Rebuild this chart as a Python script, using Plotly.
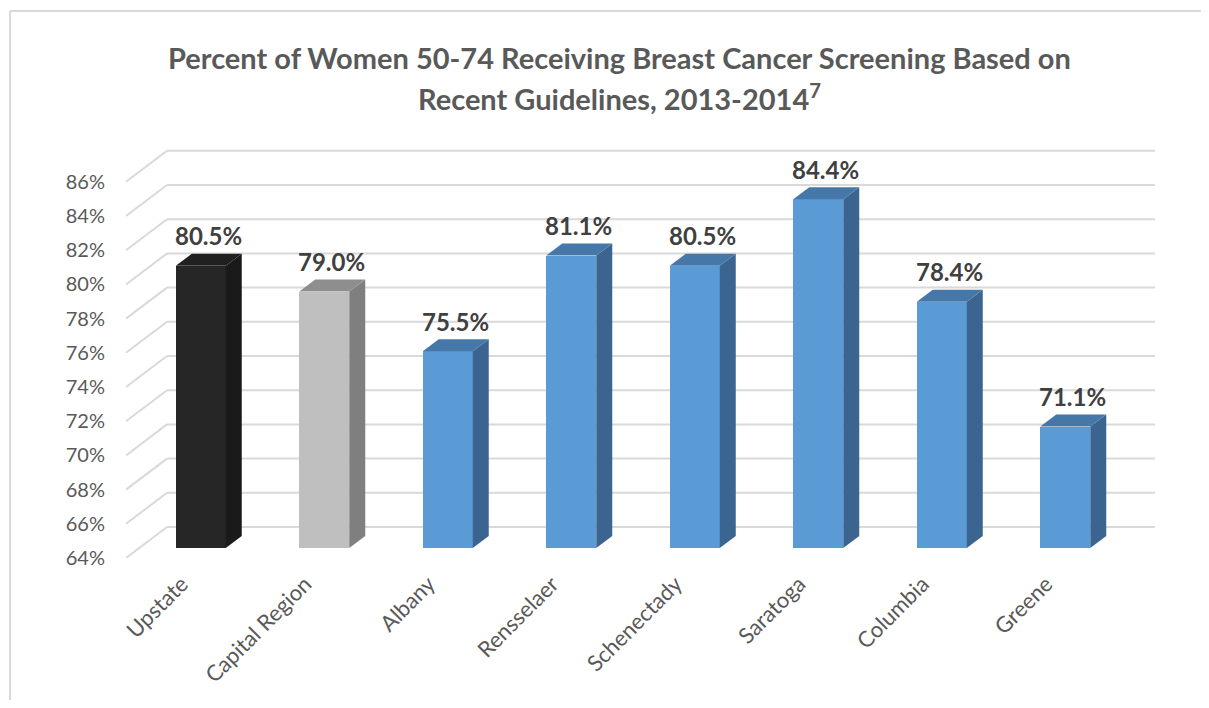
import plotly.graph_objects as go

# ---- data ----
categories = ["Upstate", "Capital Region", "Albany", "Rensselaer",
              "Schenectady", "Saratoga", "Columbia", "Greene"]
values = [80.5, 79.0, 75.5, 81.1, 80.5, 84.4, 78.4, 71.1]
tick_values = [64, 66, 68, 70, 72, 74, 76, 78, 80, 82, 84, 86]
tick_labels = [f"{v}%" for v in tick_values]
title_line1 = "Percent of Women 50-74 Receiving Breast Cancer Screening Based on"
title_line2 = "Recent Guidelines, 2013-2014<sup>7</sup>"

# ---- styles / geometry (pixels in the 1209x708 page) ----
PAGE_W, PAGE_H = 1209, 708
OFF = 8                      # default page body margin
W, H = PAGE_W - 2 * OFF, PAGE_H - 2 * OFF
ref_l, ref_r, ref_t, ref_b = 126, 1155, 149, 558   # plot area in page pixels
plot_l, plot_r = ref_l - OFF, ref_r - OFF
plot_t, plot_b = ref_t - OFF, ref_b - OFF
PX_X = 123.5   # pixels per category
PX_Y = 17.1    # pixels per percent
front_dx, front_dy = -13, 10   # bar plane -> front floor edge (px, +down)
back_dx, back_dy = 28, -21     # bar plane -> back wall (px, +down)
side_dx, side_dy = 16, -12     # bar depth (px, +down)
bar_w = 50 / PX_X
base = 64

front_cols = ["#262626", "#bfbfbf"] + ["#5b9bd5"] * 6
side_cols = ["#1a1a1a", "#7f7f7f"] + ["#3b6590"] * 6
top_cols = ["#202020", "#8e8e8e"] + ["#4577a9"] * 6
grid_col = "#d9d9d9"
text_col = "#595959"
label_col = "#404040"
FONT = "Lato"

n = len(categories)
ux = lambda px: px / PX_X
uy = lambda px: -px / PX_Y

x_range = [-0.5 + ux(front_dx), n - 0.5 + ux(back_dx)]
y_range = [base + uy(front_dy), base + uy(front_dy) + (plot_b - plot_t) / PX_Y]

def pxx(page_x):
    return (page_x - OFF - plot_l) / (plot_r - plot_l)

def pyy(page_y):
    return (plot_b - (page_y - OFF)) / (plot_b - plot_t)

fig = go.Figure()
fig.add_trace(go.Bar(
    x=list(range(n)), y=[v - base for v in values], base=base,
    width=bar_w, marker=dict(color=front_cols, line=dict(width=0)),
    hoverinfo="skip", showlegend=False,
))

shapes = []
# back wall gridlines and diagonal side-wall lines
for v in tick_values:
    yb = v + uy(back_dy)
    shapes.append(dict(type="line", xref="x", yref="y", layer="below",
                       x0=-0.5 + ux(back_dx), x1=n - 0.5 + ux(back_dx),
                       y0=yb, y1=yb, line=dict(color=grid_col, width=2)))
    shapes.append(dict(type="line", xref="x", yref="y", layer="below",
                       x0=-0.5 + ux(front_dx), y0=v + uy(front_dy),
                       x1=-0.5 + ux(back_dx), y1=yb,
                       line=dict(color=grid_col, width=2)))

# 3D side and top faces
sdx, sdy = ux(side_dx), uy(side_dy)
for i, v in enumerate(values):
    xl, xr = i - bar_w / 2, i + bar_w / 2
    side = (f"M {xr},{base} L {xr + sdx},{base + sdy} "
            f"L {xr + sdx},{v + sdy} L {xr},{v} Z")
    top = (f"M {xl},{v} L {xr},{v} L {xr + sdx},{v + sdy} "
           f"L {xl + sdx},{v + sdy} Z")
    shapes.append(dict(type="path", xref="x", yref="y", path=side,
                       fillcolor=side_cols[i], line=dict(width=0)))
    shapes.append(dict(type="path", xref="x", yref="y", path=top,
                       fillcolor=top_cols[i], line=dict(width=0)))

# chart border (top and left)
shapes.append(dict(type="line", xref="paper", yref="paper",
                   x0=pxx(10), x1=pxx(PAGE_W + 10), y0=pyy(11), y1=pyy(11),
                   line=dict(color=grid_col, width=2)))
shapes.append(dict(type="line", xref="paper", yref="paper",
                   x0=pxx(10), x1=pxx(10), y0=pyy(11), y1=pyy(PAGE_H + 10),
                   line=dict(color=grid_col, width=2)))

annotations = []
for i, v in enumerate(values):
    annotations.append(dict(x=i + 0.06, y=v, xref="x", yref="y",
                            text=f"{v:.1f}%", showarrow=False, yanchor="middle",
                            yshift=30, font=dict(family=FONT, size=24, color=label_col,
                                                  weight="bold")))

title_x = pxx(619)
annotations.append(dict(x=title_x, y=pyy(57), xref="paper", yref="paper",
                        text=title_line1, showarrow=False, yanchor="middle",
                        font=dict(family=FONT, size=29, color=text_col, weight="bold")))
annotations.append(dict(x=title_x, y=pyy(97), xref="paper", yref="paper",
                        text=title_line2, showarrow=False, yanchor="middle",
                        font=dict(family=FONT, size=29, color=text_col, weight="bold")))

fig.update_layout(
    width=W, height=H,
    margin=dict(l=plot_l, r=W - plot_r, t=plot_t, b=H - plot_b),
    paper_bgcolor="white", plot_bgcolor="white",
    shapes=shapes, annotations=annotations,
    font=dict(family=FONT, color=text_col),
    bargap=0,
    xaxis=dict(range=x_range, showgrid=False, zeroline=False, showline=False,
               tickmode="array",
               tickvals=[i + ux(front_dx - 6) for i in range(n)],
               ticktext=categories, tickangle=-45,
               tickfont=dict(family=FONT, size=22, color=text_col),
               ticks="", ticklabelstandoff=8, fixedrange=True),
    yaxis=dict(range=y_range, showgrid=False, zeroline=False, showline=False,
               tickmode="array",
               tickvals=[v + uy(front_dy) for v in tick_values],
               ticktext=tick_labels,
               tickfont=dict(family=FONT, size=20, color=text_col),
               ticks="", ticklabelstandoff=20, fixedrange=True),
)

fig.write_html("out.html")
